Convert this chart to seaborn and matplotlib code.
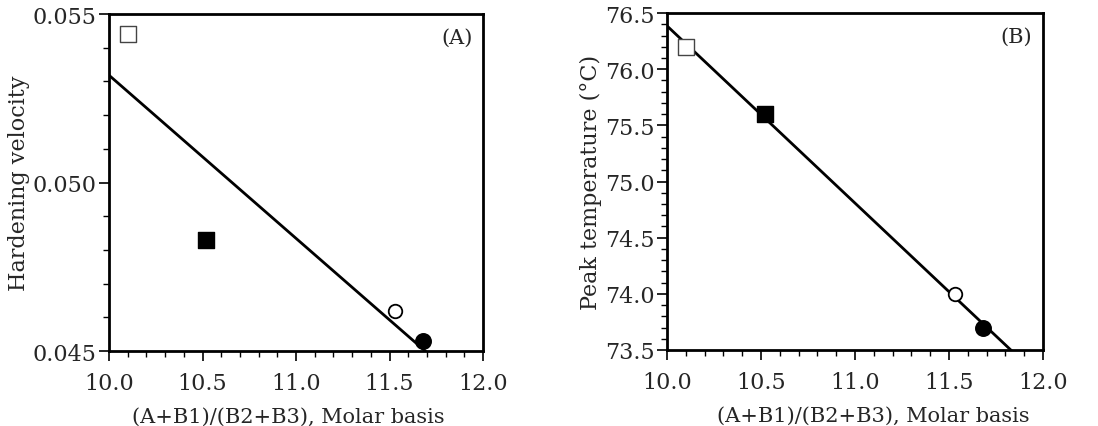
import matplotlib
matplotlib.use("Agg")
import matplotlib.pyplot as plt
import seaborn as sns
import pandas as pd
from matplotlib.ticker import MultipleLocator, FormatStrFormatter

ratio = [10.10, 10.52, 11.53, 11.68]
hardening_velocity = [0.0544, 0.0483, 0.0462, 0.0453]
peak_temperature = [76.2, 75.6, 74.0, 73.7]
sample = ["open square", "filled square", "open circle", "filled circle"]

df = pd.DataFrame({"ratio": ratio, "hv": hardening_velocity,
                   "pt": peak_temperature, "sample": sample})

sns.set_theme(style="white")
plt.rcParams["font.family"] = ["DejaVu Serif"]
plt.rcParams["mathtext.fontset"] = "dejavuserif"

fig = plt.figure(figsize=(10.98, 4.27), dpi=100)
axA = fig.add_axes([0.0993, 0.1756, 0.3406, 0.789])
axB = fig.add_axes([0.6075, 0.178, 0.3424, 0.789])

styles = {
    "open square": dict(marker="s", fc="white", ec="#444444", s=120, lw=1.0),
    "filled square": dict(marker="s", fc="black", ec="black", s=125, lw=1.0),
    "open circle": dict(marker="o", fc="white", ec="black", s=95, lw=1.3),
    "filled circle": dict(marker="o", fc="black", ec="black", s=125, lw=1.0),
}

def panel(ax, ycol, ylim, ymaj, ymin, fmt, ylabel, tag, xlabel_x):
    ax.set_xlim(10.0, 12.0)
    ax.set_ylim(*ylim)
    sns.regplot(data=df, x="ratio", y=ycol, ax=ax, scatter=False, ci=None,
                truncate=False, color="black", line_kws=dict(lw=2.0))
    for name, st in styles.items():
        sub = df[df["sample"] == name]
        sns.scatterplot(data=sub, x="ratio", y=ycol, ax=ax, marker=st["marker"],
                        s=st["s"], facecolor=st["fc"], edgecolor=st["ec"],
                        linewidth=st["lw"], zorder=5, clip_on=False, legend=False)
    ax.set_xlim(10.0, 12.0)
    ax.set_ylim(*ylim)
    ax.xaxis.set_major_locator(MultipleLocator(0.5))
    ax.xaxis.set_minor_locator(MultipleLocator(0.1))
    ax.yaxis.set_major_locator(MultipleLocator(ymaj))
    ax.yaxis.set_minor_locator(MultipleLocator(ymin))
    ax.xaxis.set_major_formatter(FormatStrFormatter("%.1f"))
    ax.yaxis.set_major_formatter(FormatStrFormatter(fmt))
    ax.tick_params(axis="both", which="major", direction="out", length=7,
                   width=1.2, labelsize=16, color="black",
                   bottom=True, left=True, top=False, right=False)
    ax.tick_params(axis="x", which="major", pad=8)
    ax.tick_params(axis="y", which="major", pad=2)
    ax.tick_params(axis="both", which="minor", direction="out", length=4,
                   width=1.0, color="black",
                   bottom=True, left=True, top=False, right=False)
    for sp in ax.spines.values():
        sp.set_visible(True)
        sp.set_color("black")
        sp.set_linewidth(2.0)
    ax.set_xlabel("(A+B1)/(B2+B3), Molar basis", fontsize=15)
    ax.xaxis.set_label_coords(xlabel_x, -0.165)
    ax.set_ylabel(ylabel, fontsize=16, labelpad=2)
    ax.text(0.93, 0.93, tag, transform=ax.transAxes, ha="center", va="center",
            fontsize=15)

panel(axA, "hv", (0.045, 0.055), 0.005, 0.001, "%.3f", "Hardening velocity", "(A)", 0.48)
panel(axB, "pt", (73.5, 76.5), 0.5, 0.1, "%.1f", "Peak temperature (\u00b0C)", "(B)", 0.55)

fig.savefig("out.png", dpi=100)
